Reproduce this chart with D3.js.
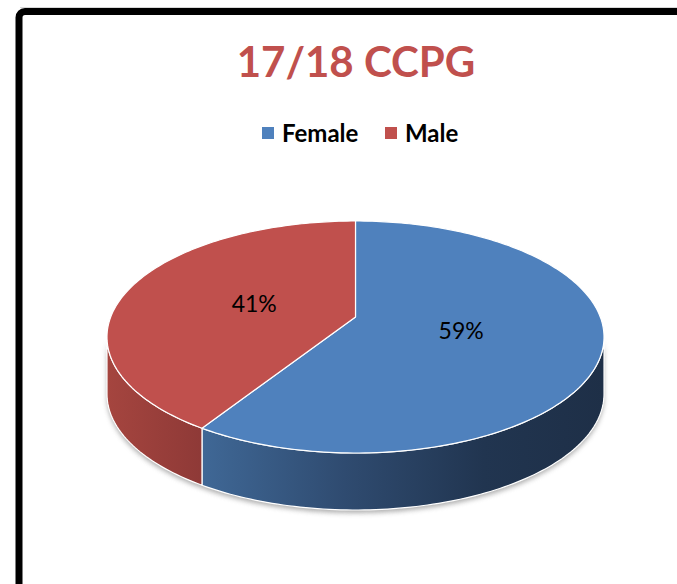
<!DOCTYPE html>
<html>
<head>
<meta charset="utf-8">
<script src="https://cdnjs.cloudflare.com/ajax/libs/d3/7.8.5/d3.min.js"></script>
<style>
  body { margin: 0; background: #fff; }
  svg { display: block; }
</style>
</head>
<body>
<svg width="677" height="584"></svg>
<script>
var title = "17/18 CCPG";
var categories = ["Female", "Male"];
var values = [59, 41];
var colors = ["#4f81bd", "#c0504d"];

var width = 677, height = 584;
var svg = d3.select("svg");

// frame
svg.append("line")
  .attr("x1", 20).attr("x2", width).attr("y1", 7.5).attr("y2", 7.5)
  .style("stroke", "#d8d8d8");
svg.append("line")
  .attr("x1", 22).attr("x2", width).attr("y1", 582).attr("y2", 582)
  .style("stroke", "#e2e2e2").style("stroke-width", 2);
svg.append("rect")
  .attr("x", 19).attr("y", 11.5)
  .attr("width", 760).attr("height", 700)
  .attr("rx", 6)
  .style("fill", "#fff")
  .style("stroke", "#000")
  .style("stroke-width", 7);

svg.append("text")
  .attr("x", 356).attr("y", 77)
  .attr("text-anchor", "middle")
  .style("font-family", "Lato, 'Open Sans', sans-serif")
  .style("font-weight", "bold")
  .style("font-size", "42px")
  .style("fill", "#c0504d")
  .text(title);

// legend
var legend = svg.append("g").attr("class", "legend");
var legX = [262, 385];
legend.selectAll("rect")
  .data(categories)
  .enter().append("rect")
  .attr("x", function(d, i) { return legX[i]; })
  .attr("y", 127)
  .attr("width", 12).attr("height", 12)
  .attr("fill", function(d, i) { return colors[i]; });
legend.selectAll("text")
  .data(categories)
  .enter().append("text")
  .attr("x", function(d, i) { return legX[i] + 20; })
  .attr("y", 142)
  .style("font-family", "Lato, 'Open Sans', sans-serif")
  .style("font-weight", "bold")
  .style("font-size", "24px")
  .style("fill", "#000")
  .text(function(d) { return d; });

// 3d pie with a bit of perspective
var cx = 355.5, cy = 317, rx = 244.8, ry = 112.55, persp = 0.1724, depth = 57;

function project(angle, r, dy) {
  var u = r * Math.sin(angle), v = r * Math.cos(angle);
  var w = 1 + persp * v;
  return [cx + rx * u / w, cy - ry * v / w + (dy || 0)];
}

var pie = d3.pie().sort(null).value(function(d) { return d; });
var arcs = pie(values);
var line = d3.line();

// silhouette angles (left / right extremes of the rim)
var phiR = Math.acos(-persp), phiL = 2 * Math.PI - phiR;

function arcPoints(a0, a1, dy) {
  var n = Math.max(2, Math.ceil(Math.abs(a1 - a0) / 0.02));
  return d3.range(n + 1).map(function(i) {
    return project(a0 + (a1 - a0) * i / n, 1, dy);
  });
}

var defs = svg.append("defs");
defs.append("filter").attr("id", "shadow")
  .attr("x", "-10%").attr("y", "-10%").attr("width", "120%").attr("height", "130%")
  .append("feGaussianBlur").attr("stdDeviation", 2.5);

var sideStops = [
  [{o: 0, c: "#3f6795"}, {o: 0.35, c: "#2f4b70"}, {o: 0.7, c: "#213550"}, {o: 1, c: "#1e2f47"}],
  [{o: 0, c: "#a5453f"}, {o: 1, c: "#8c3836"}]
];
var gradRange = [[205, 604], [107, 212]];
sideStops.forEach(function(stops, i) {
  var g = defs.append("linearGradient")
    .attr("id", "side" + i)
    .attr("gradientUnits", "userSpaceOnUse")
    .attr("x1", gradRange[i][0]).attr("x2", gradRange[i][1])
    .attr("y1", 0).attr("y2", 0);
  g.selectAll("stop").data(stops).enter().append("stop")
    .attr("offset", function(d) { return d.o; })
    .attr("stop-color", function(d) { return d.c; });
});

// soft shadow under the pie
var shadowPts = arcPoints(phiR, phiL, depth + 3).concat(arcPoints(phiL, phiR, 0).slice(1));
svg.append("path")
  .attr("d", line(shadowPts) + "Z")
  .attr("fill", "#777")
  .attr("opacity", 0.6)
  .attr("filter", "url(#shadow)");

// sides
var sides = svg.append("g").attr("class", "sides");
arcs.forEach(function(d, i) {
  var a0 = Math.max(d.startAngle, phiR), a1 = Math.min(d.endAngle, phiL);
  if (a1 <= a0) return;
  var pts = arcPoints(a0, a1, 0).concat(arcPoints(a1, a0, depth));
  sides.append("path")
    .attr("d", line(pts) + "Z")
    .attr("fill", "url(#side" + i + ")")
    .attr("stroke", "#fff")
    .attr("stroke-width", 1.2)
    .attr("stroke-linejoin", "round");
});

// tops
var tops = svg.append("g").attr("class", "tops");
tops.selectAll("path")
  .data(arcs)
  .enter().append("path")
  .attr("d", function(d) {
    return line([[cx, cy]].concat(arcPoints(d.startAngle, d.endAngle, 0))) + "Z";
  })
  .attr("fill", function(d, i) { return colors[i]; })
  .attr("stroke", "#fff")
  .attr("stroke-width", 1.2)
  .attr("stroke-linejoin", "round");

// labels
var total = d3.sum(values);
svg.append("g").selectAll("text")
  .data(arcs)
  .enter().append("text")
  .attr("transform", function(d) {
    var p = project((d.startAngle + d.endAngle) / 2, 0.44, 0);
    return "translate(" + p[0] + "," + p[1] + ")";
  })
  .attr("text-anchor", "middle")
  .attr("dy", "0.35em")
  .style("font-family", "Lato, 'Open Sans', sans-serif")
  .style("font-size", "23px")
  .style("fill", "#000")
  .text(function(d) { return Math.round(d.value / total * 100) + "%"; });
</script>
</body>
</html>
